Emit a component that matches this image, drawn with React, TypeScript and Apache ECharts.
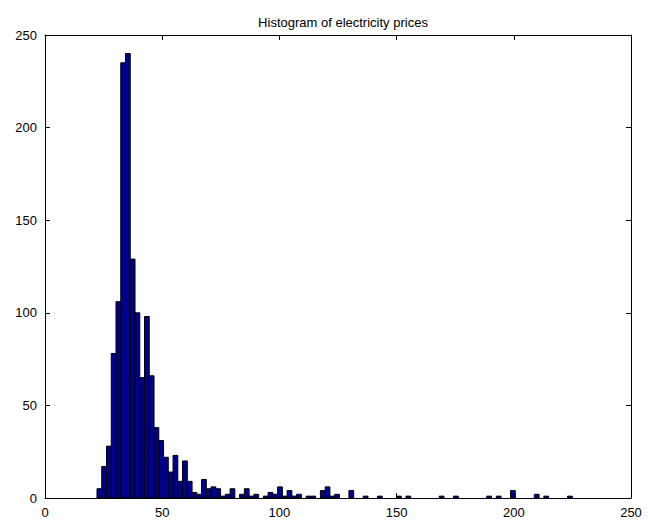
import React, { useEffect, useRef } from "react";
import * as echarts from "echarts";

// Histogram: 100 equal-width bins between the lowest and highest price
const binLow = 22.18;
const binWidth = 2.028;
const binCounts = [
  5, 17, 28, 78, 106, 235, 240, 129, 100, 65,
  98, 66, 38, 31, 22, 14, 23, 9, 20, 9,
  3, 2, 10, 5, 6, 5, 1, 2, 5, 0,
  2, 5, 1, 2, 0, 1, 3, 2, 6, 1,
  4, 1, 2, 0, 1, 1, 0, 4, 6, 1,
  2, 0, 0, 4, 0, 0, 1, 0, 0, 1,
  0, 0, 0, 1, 0, 1, 0, 0, 0, 0,
  0, 0, 1, 0, 0, 1, 0, 0, 0, 0,
  0, 0, 1, 0, 1, 0, 0, 4, 0, 0,
  0, 0, 2, 0, 1, 0, 0, 0, 0, 1,
];
const xTicks = { min: 0, max: 250, interval: 50 };
const yTicks = { min: 0, max: 250, interval: 50 };
const titleText = "Histogram of electricity prices";

const FONT = "'Liberation Sans', Arial, Helvetica, sans-serif";

export default function App() {
  const ref = useRef<HTMLDivElement>(null);

  useEffect(() => {
    document.body.style.margin = "0";
    if (!ref.current) return;
    const chart = echarts.init(ref.current, undefined, { renderer: "svg" });

    const data = binCounts.map((c, i) => {
      const lo = binLow + i * binWidth;
      return [lo, lo + binWidth, c];
    });

    const axisLine = { show: true, onZero: false, lineStyle: { color: "#000", width: 1 } };
    const axisTick = { show: true, inside: true, length: 5, lineStyle: { color: "#000", width: 1 } };
    const label = { color: "#000", fontFamily: FONT, fontSize: 13, margin: 8 };

    chart.setOption({
      animation: false,
      backgroundColor: "#fff",
      title: {
        text: titleText,
        left: 338,
        textAlign: "center",
        top: 11,
        textStyle: { fontFamily: FONT, fontSize: 13, fontWeight: "normal", color: "#000" },
      },
      grid: { left: 45, right: 17, top: 35, bottom: 31, show: false },
      xAxis: [
        {
          type: "value",
          position: "bottom",
          ...xTicks,
          axisLine,
          axisTick,
          splitLine: { show: false },
          axisLabel: label,
        },
        {
          type: "value",
          position: "top",
          ...xTicks,
          axisLine,
          axisTick,
          splitLine: { show: false },
          axisLabel: { show: false },
        },
      ],
      yAxis: [
        {
          type: "value",
          position: "left",
          ...yTicks,
          axisLine,
          axisTick,
          splitLine: { show: false },
          axisLabel: label,
        },
        {
          type: "value",
          position: "right",
          ...yTicks,
          axisLine,
          axisTick,
          splitLine: { show: false },
          axisLabel: { show: false },
        },
      ],
      series: [
        {
          type: "custom",
          xAxisIndex: 0,
          yAxisIndex: 0,
          data,
          encode: { x: [0, 1], y: 2 },
          renderItem: (params: any, api: any) => {
            const count = api.value(2);
            if (!count) return null;
            const p0 = api.coord([api.value(0), count]);
            const p1 = api.coord([api.value(1), 0]);
            return {
              type: "rect",
              shape: { x: p0[0], y: p0[1], width: p1[0] - p0[0], height: p1[1] - p0[1] },
              style: { fill: "#00008f", stroke: "#000", lineWidth: 1 },
            };
          },
        },
      ],
    });

    return () => chart.dispose();
  }, []);

  return <div ref={ref} style={{ width: 648, height: 529 }} />;
}
